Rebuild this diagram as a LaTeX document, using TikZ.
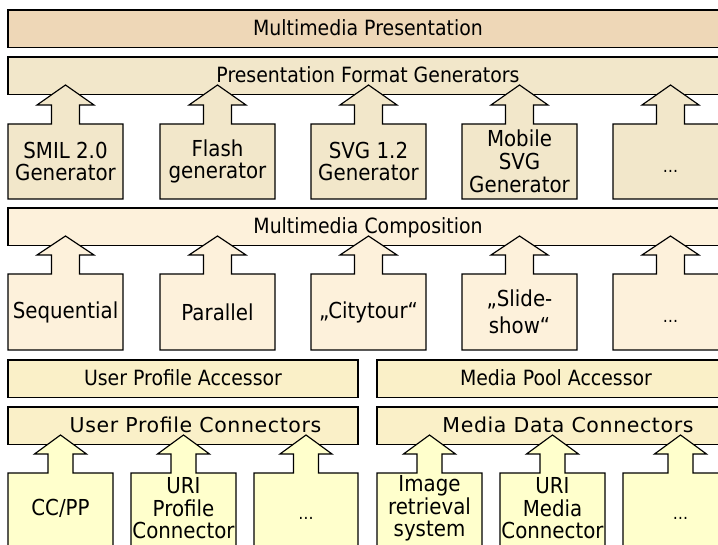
\documentclass[tikz,border=0pt]{standalone}
\usepackage{fontspec}
\setmainfont{DejaVu Sans}[FakeStretch=0.9]
\newfontfamily\widefont{DejaVu Sans}[LetterSpace=3]
\usetikzlibrary{calc}

\definecolor{presbar}{RGB}{238,215,183}
\definecolor{genfill}{RGB}{242,231,202}
\definecolor{compfill}{RGB}{253,241,219}
\definecolor{accfill}{RGB}{250,240,200}
\definecolor{srcfill}{RGB}{255,255,204}

\pgfdeclarelayer{bars}
\pgfdeclarelayer{blocks}
\pgfsetlayers{bars,blocks,main}

\tikzset{
  outline/.style={draw=black, line width=1.15pt, line join=miter},
  bar/.style={inner sep=0pt, outer sep=0pt, anchor=north west,
    minimum height=37.5pt, text height=14pt, text depth=0pt,
    font=\fontsize{21}{23}\selectfont},
  block/.style={inner sep=0pt, outer sep=0pt, anchor=north west, align=center,
    minimum height=75pt, minimum width=115pt, font=\fontsize{22}{22.5}\selectfont},
  srcblock/.style={block, minimum width=105pt, minimum height=71pt},
  dots/.style={font=\fontsize{17}{17}\selectfont, text height=22pt, text depth=0pt},
}

% box with a block arrow rising from its top edge:
% #1 node, #2 half shaft width, #3 half head width, #4 shaft length,
% #5 head height, #6 fill, #7 extra depth below the node
\newcommand\upblock[7]{%
  \draw[outline, fill=#6] ($(#1.south west)+(0,#7)$) -- (#1.north west)
    -- ($(#1.north)+(-#2,0)$) -- ++(0,-#4) -- ++(#2-#3,0) -- ++(#3,-#5)
    -- ++(#3,#5) -- ++(#2-#3,0) -- ++(0,#4) -- (#1.north east)
    -- ($(#1.south east)+(0,#7)$) -- cycle;}
\newcommand\barbox[2]{%
  \draw[outline, fill=#2] (#1.north west) rectangle (#1.south east);}

\begin{document}
\begin{tikzpicture}[x=1pt, y=-1pt]
\useasboundingbox (0,0) rectangle (718,545);
\clip (0,0) rectangle (718,545);

% horizontal layers
\node[bar, minimum width=720pt] (pres) at (8,10) {Multimedia Presentation};
\node[bar, minimum width=720pt] (gens) at (8,57) {Presentation Format Generators};
\node[bar, minimum width=720pt] (comp) at (8,208) {Multimedia Composition};
\node[bar, minimum width=350pt] (upa) at (8,360) {User Profile Accessor};
\node[bar, minimum width=358pt] (mpa) at (377,360) {Media Pool Accessor};
\node[bar, minimum width=350pt, font=\widefont\fontsize{20.5}{23}\selectfont] (upc) at (8,407)
  {\hspace*{25pt}User Profile Connectors};
\node[bar, minimum width=358pt, font=\widefont\fontsize{20.5}{23}\selectfont] (mdc) at (377,407)
  {\hspace*{24pt}Media Data Connectors};

% generators
\node[block] (smil) at (8,124) {SMIL 2.0\\Generator};
\node[block] (flash) at (160,124) {Flash\\generator};
\node[block] (svg) at (311,124) {SVG 1.2\\Generator};
\node[block, font=\fontsize{22}{23}\selectfont] (msvg) at (462,124) {Mobile\\SVG\\Generator};
\node[block, dots] (gmore) at (613,124) {…};

% composition strategies
\node[block, minimum height=76pt] (seq) at (8,274) {Sequential};
\node[block, minimum height=76pt] (par) at (160,274) {Parallel};
\node[block, minimum height=76pt] (city) at (311,274) {„Citytour“};
\node[block, minimum height=76pt, font=\fontsize{22}{27}\selectfont] (slide) at (462,274) {„Slide-\\show“};
\node[block, minimum height=76pt, dots] (cmore) at (613,274) {…};

% data sources
\node[srcblock] (ccpp) at (8,473) {CC/PP};
\node[srcblock] (uriprof) at (131,473) {URI\\Profile\\Connector};
\node[srcblock, minimum width=104pt, dots] (pmore) at (254,473) {…};
\node[srcblock] (imgret) at (377,473) {Image\\retrieval\\system};
\node[srcblock] (urimedia) at (500,473) {URI\\Media\\Connector};
\node[srcblock, minimum width=115pt, dots] (mmore) at (623,473) {…};

\begin{pgfonlayer}{bars}
  \barbox{pres}{presbar}
  \barbox{gens}{genfill}
  \barbox{comp}{compfill}
  \barbox{upa}{accfill}
  \barbox{mpa}{accfill}
  \barbox{upc}{accfill}
  \barbox{mdc}{accfill}
\end{pgfonlayer}

\begin{pgfonlayer}{blocks}
  \foreach \n in {smil,flash,svg,msvg,gmore}
    {\upblock{\n}{14}{28.5}{19}{20}{genfill}{0}}
  \foreach \n in {seq,par,city,slide,cmore}
    {\upblock{\n}{14}{28.5}{19}{19}{compfill}{0}}
  \foreach \n in {ccpp,uriprof,pmore,imgret,urimedia,mmore}
    {\upblock{\n}{12.5}{26}{19}{19}{srcfill}{10}}
\end{pgfonlayer}
\end{tikzpicture}
\end{document}
